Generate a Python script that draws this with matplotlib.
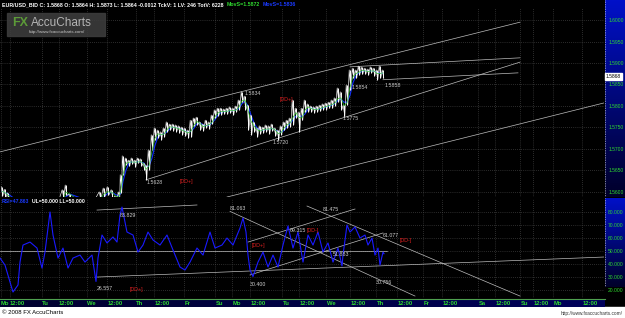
import matplotlib
matplotlib.use('Agg')
import matplotlib.pyplot as plt
import numpy as np
import pandas as pd
from matplotlib.patches import Rectangle
from matplotlib.colors import LinearSegmentedColormap

plt.rcParams['font.family'] = ['Liberation Sans', 'DejaVu Sans']

# ---------------- data ----------------
bar_x = [2, 5, 8, 15, 25, 35, 45, 55, 63, 66, 70, 80, 90, 100, 104, 108, 112, 116, 119, 121, 123,
         126, 129, 132, 135, 138, 141, 144, 146, 149, 152, 155, 158, 161, 164, 167, 170, 173, 176,
         179, 182, 185, 188, 191, 194, 197, 200, 203, 206, 209, 212, 215, 218, 221, 224, 227, 230,
         233, 236, 239, 242, 245, 248, 251, 254, 257, 260, 263, 266, 269, 272, 275, 278, 281, 284,
         287, 290, 293, 296, 299, 302, 305, 308, 311, 314, 317, 320, 323, 326, 329, 332, 335, 338,
         341, 344, 347, 350, 353, 356, 359, 362, 365, 368, 371, 374, 377, 380, 383]
bar_hi = [1.5612, 1.5606, 1.5598, 1.5575, 1.5565, 1.5560, 1.5568, 1.5578, 1.5605, 1.5616, 1.5595,
          1.5580, 1.5585, 1.5600, 1.5609, 1.5612, 1.5605, 1.5590, 1.5600, 1.5640, 1.5684,
          1.5679, 1.5674, 1.5679, 1.5674, 1.5679, 1.5677, 1.5667, 1.5663, 1.5698, 1.5733, 1.5749,
          1.5744, 1.5740, 1.5749, 1.5763, 1.5758, 1.5758, 1.5756, 1.5754, 1.5751, 1.5749, 1.5744,
          1.5767, 1.5772, 1.5774, 1.5763, 1.5758, 1.5767, 1.5763, 1.5779, 1.5791, 1.5795, 1.5795,
          1.5793, 1.5795, 1.5798, 1.5795, 1.5800, 1.5814, 1.5833, 1.5823, 1.5802, 1.5779, 1.5763,
          1.5749, 1.5754, 1.5751, 1.5756, 1.5754, 1.5758, 1.5749, 1.5744, 1.5754, 1.5763, 1.5767,
          1.5772, 1.5814, 1.5795, 1.5786, 1.5795, 1.5814, 1.5805, 1.5800, 1.5798, 1.5800, 1.5802,
          1.5805, 1.5807, 1.5809, 1.5814, 1.5819, 1.5842, 1.5833, 1.5802, 1.5849, 1.5884, 1.5888,
          1.5884, 1.5893, 1.5891, 1.5888, 1.5886, 1.5891, 1.5888, 1.5884, 1.5893, 1.5884]
bar_lo = [1.5590, 1.5585, 1.5580, 1.5555, 1.5545, 1.5540, 1.5548, 1.5558, 1.5585, 1.5592, 1.5575,
          1.5560, 1.5565, 1.5582, 1.5588, 1.5592, 1.5586, 1.5575, 1.5585, 1.5598, 1.5640,
          1.5663, 1.5660, 1.5665, 1.5658, 1.5667, 1.5660, 1.5651, 1.5628, 1.5651, 1.5698, 1.5721,
          1.5726, 1.5721, 1.5728, 1.5740, 1.5744, 1.5742, 1.5740, 1.5737, 1.5733, 1.5730, 1.5726,
          1.5728, 1.5754, 1.5756, 1.5744, 1.5742, 1.5749, 1.5747, 1.5758, 1.5772, 1.5777, 1.5779,
          1.5781, 1.5781, 1.5784, 1.5779, 1.5786, 1.5791, 1.5809, 1.5791, 1.5744, 1.5733, 1.5740,
          1.5728, 1.5735, 1.5737, 1.5740, 1.5735, 1.5742, 1.5730, 1.5720, 1.5733, 1.5744, 1.5749,
          1.5751, 1.5756, 1.5772, 1.5740, 1.5767, 1.5786, 1.5786, 1.5786, 1.5784, 1.5786, 1.5788,
          1.5791, 1.5791, 1.5795, 1.5795, 1.5800, 1.5809, 1.5791, 1.5775, 1.5802, 1.5837, 1.5865,
          1.5865, 1.5872, 1.5874, 1.5874, 1.5872, 1.5877, 1.5870, 1.5861, 1.5865, 1.5865]

rsi_x = [0, 5, 10, 13, 18, 20, 23, 30, 37, 42, 45, 50, 53, 58, 63, 68, 73, 80, 85, 92, 96, 98,
         102, 107, 113, 117, 120, 122, 127, 133, 138, 143, 148, 153, 160, 167, 173, 180, 185, 190,
         197, 203, 210, 215, 222, 227, 233, 240, 243, 246, 248, 250, 253, 258, 263, 268, 273, 278,
         283, 288, 293, 298, 303, 308, 313, 318, 323, 328, 333, 338, 342, 343, 347, 350, 355, 360,
         365, 368, 372, 375, 378, 380, 383, 384]
rsi_v = [44.6, 39.2, 26.2, 18.5, 23.9, 41.5, 54.6, 56.9, 52.3, 36.9, 49.2, 80.0, 62.3, 44.6,
         52.3, 36.9, 44.6, 46.9, 41.5, 46.9, 26.6, 44.6, 62.3, 56.2, 60.8, 56.9, 77.7, 83.8,
         64.6, 62.3, 49.2, 54.6, 64.6, 58.5, 54.6, 62.3, 50.8, 37.7, 35.4, 41.5, 52.3, 46.9,
         64.6, 52.3, 54.6, 60.0, 54.6, 67.7, 75.4, 64.6, 46.9, 35.4, 30.4, 41.5, 49.2, 37.7,
         46.9, 37.7, 54.6, 69.3, 52.3, 64.6, 41.5, 62.3, 54.6, 64.6, 49.2, 56.2, 41.5, 52.3,
         38.5, 46.9, 70.0, 64.6, 68.5, 60.0, 62.3, 54.6, 60.0, 46.9, 52.3, 39.2, 49.2, 47.9]

price_ticks = [1.5600, 1.5650, 1.5700, 1.5750, 1.5800, 1.5850, 1.5900, 1.5950, 1.6000]
rsi_ticks = [20, 30, 40, 50, 60, 70, 80]
time_pos = [1, 10, 42, 59, 87, 107, 136, 154, 184, 215, 232, 250, 282, 299, 326, 350, 376, 397,
            423, 442, 478, 495, 520, 533, 553, 582]
time_lbl = ['Mo', '12:00', 'Tu', '12:00', 'We', '12:00', 'Th', '12:00', 'Fr', 'Su', 'Mo', '12:00',
            'Tu', '12:00', 'We', '12:00', 'Th', '12:00', 'Fr', '12:00', 'Sa', '12:00', 'Su', '12:00',
            'Mo', '12:00']

# trend lines (x0, v0, x1, v1)
price_lines = [(0, 1.5693, 520, 1.5995),
               (146, 1.5628, 520, 1.5902),
               (227, 1.5588, 604, 1.5807),
               (350, 1.5891, 520, 1.5912),
               (383, 1.5861, 518, 1.5877)]
price_notes = [(147, 1.5622, '1.5628', '#c8c8c8'), (180, 1.5625, '[DD+]', '#e02020'),
               (273, 1.5716, '1.5720', '#c8c8c8'), (245, 1.5829, '1.5834', '#c8c8c8'),
               (280, 1.5814, '[DD+]', '#e02020'), (343, 1.5770, '1.5775', '#c8c8c8'),
               (352, 1.5842, '1.5854', '#c8c8c8'), (385, 1.5847, '1.5858', '#c8c8c8')]

rsi_lines = [(97, 81.5, 197, 85.4),
             (97, 30.0, 604, 45.4),
             (0, 50.0, 387, 50.0),
             (230, 80.5, 415, 15.4),
             (250, 31.6, 383, 63.9),
             (248, 56.9, 355, 82.3),
             (307, 84.6, 520, 15.4)]
rsi_notes = [(120, 77.0, '83.829'), (97, 21.0, '26.557'), (230, 83.0, '81.063'),
             (250, 24.5, '30.400'), (290, 65.5, '69.315'), (323, 82.0, '81.475'),
             (333, 47.0, '51.883'), (383, 62.0, '61.077'), (376, 25.5, '30.756')]
rsi_dd = [(130, 20.5, '[DD+]'), (252, 54.0, '[DD+]'), (307, 66.0, '[DD-]'), (400, 58.0, '[DD-]')]

# ---------------- figure ----------------
W, H = 625, 318
fig = plt.figure(figsize=(W / 100, H / 100), dpi=100)
fig.patch.set_facecolor('black')


def fx(px):
    return px / W


def fy(py):
    return 1 - py / H


fig.add_artist(Rectangle((0, 0), 1, 11 / H, transform=fig.transFigure, color='white', zorder=0))

green = '#2fd82f'
gridc = '#555555'

ax1 = fig.add_axes([0, fy(197), 604 / W, (197 - 8) / H], zorder=2)
ax2 = fig.add_axes([0, fy(298), 604 / W, (298 - 199) / H], zorder=2)

for ax in (ax1, ax2):
    ax.set_facecolor('black')
    for s in ax.spines.values():
        s.set_visible(False)
    ax.set_xlim(0, 604)
    ax.set_xticks(time_pos)
    ax.tick_params(axis='x', length=0, labelbottom=False)
    ax.yaxis.tick_right()
    ax.tick_params(axis='y', length=0, pad=3, labelsize=3.6, labelcolor=green)
    ax.grid(True, color=gridc, linestyle=(0, (1, 2)), linewidth=0.5)
    ax.set_axisbelow(True)

ax1.set_ylim(1.5588, 1.6028)
ax1.set_yticks(price_ticks)
ax1.set_yticklabels([f'{v:.4f}' for v in price_ticks])
ax2.set_ylim(13.9, 90)
ax2.set_yticks(rsi_ticks)
ax2.set_yticklabels([f'{v:.3f}' for v in rsi_ticks])

# right gradient strips
grad = np.linspace(0, 1, 100).reshape(-1, 1)
cm = LinearSegmentedColormap.from_list('b', ['#00002a', '#0010c8'])
for (top, bot) in ((0, 197), (198, 287)):
    sa = fig.add_axes([fx(605), fy(bot), 20 / W, (bot - top) / H], zorder=1)
    sa.imshow(grad, aspect='auto', cmap=cm, origin='lower', extent=(0, 1, 0, 1))
    sa.axis('off')
    sa.axvline(0.02, color='white', linestyle=(0, (1, 1.5)), linewidth=0.5)

# price bars
hi = np.array(bar_hi)
lo = np.array(bar_lo)
bx = np.array(bar_x, dtype=float)
mid = (hi + lo) / 2
ma_fast = pd.Series(mid).rolling(2, min_periods=1).mean()
ma_slow = pd.Series(mid).rolling(3, min_periods=1).mean()
zig_x = np.column_stack([bx - 0.8, bx + 0.8]).ravel()
zig_y = np.column_stack([hi, lo]).ravel()
ax1.plot(bx, ma_slow, color='#1030ff', lw=0.8, zorder=3)
ax1.vlines(bx, lo, hi, color='white', lw=0.7, zorder=4)
ax1.plot(zig_x, zig_y, color='white', lw=0.45, zorder=4)
ax1.plot(bx, ma_fast, color='#30c030', lw=0.5, zorder=5)

for x0, v0, x1, v1 in price_lines:
    ax1.plot([x0, x1], [v0, v1], color='#bdbdbd', lw=0.5, zorder=3)
for x, v, t, c in price_notes:
    ax1.text(x, v, t, color=c, fontsize=3.8, va='center', ha='left', zorder=6)

# last price box
ax1.annotate('1.5868', xy=(1.003, 1.5868), xycoords=('axes fraction', 'data'), fontsize=3.6,
             color='black', va='center', ha='left', annotation_clip=False, zorder=10,
             bbox=dict(boxstyle='square,pad=0.2', fc='white', ec='white'))

# RSI
for x0, v0, x1, v1 in rsi_lines:
    ax2.plot([x0, x1], [v0, v1], color='#bdbdbd', lw=0.5, zorder=3)
ax2.plot(rsi_x, rsi_v, color='#1a1aff', lw=0.8, zorder=4)
for x, v, t in rsi_notes:
    ax2.text(x, v, t, color='#d0d0d0', fontsize=3.8, va='center', ha='left', zorder=6)
for x, v, t in rsi_dd:
    ax2.text(x, v, t, color='#e02020', fontsize=3.8, va='center', ha='left', zorder=6)

# header texts
fig.text(fx(2), fy(4.5), 'EUR/USD_BID C: 1.5868 O: 1.5864 H: 1.5873 L: 1.5864 -0.0012 TckV: 1 LV: 246 TotV: 6228',
         color='white', fontsize=3.8, fontweight='bold', va='center', ha='left')
fig.text(fx(227), fy(4.5), 'MovS=1.5872', color=green, fontsize=3.8, fontweight='bold', va='center')
fig.text(fx(263), fy(4.5), 'MovS=1.5836', color='#1a3aff', fontsize=3.8, fontweight='bold', va='center')
fig.text(fx(2), fy(201.5), 'RSI=47.863', color='#1a3aff', fontsize=3.7, fontweight='bold', va='center')
fig.text(fx(32), fy(201.5), 'UL=50.000 LL=50.000', color='white', fontsize=3.7, fontweight='bold', va='center')

# watermark
fig.add_artist(Rectangle((fx(7), fy(36)), 98 / W, 23 / H, transform=fig.transFigure,
                         color='#3c3c3c', alpha=0.9, zorder=5))
fig.text(fx(12), fy(23), 'FX', color='#5c9a38', fontsize=9, fontweight='bold', va='center', zorder=6)
fig.text(fx(31), fy(23), 'AccuCharts', color='#b4b4b4', fontsize=8.5, va='center', zorder=6)
fig.text(fx(29), fy(32), 'http://www.fxaccucharts.com/', color='#c8c8c8', fontsize=3.2, va='center', zorder=6)

# time axis bar
tb = fig.add_axes([0, fy(307), 605 / W, 8 / H], zorder=3)
tb.imshow(np.linspace(0, 1, 100).reshape(1, -1), aspect='auto',
          cmap=LinearSegmentedColormap.from_list('t', ['#00002e', '#00005a']), extent=(0, 604, 0, 1))
tb.set_xlim(0, 604)
tb.axis('off')
fig.add_artist(plt.Line2D([0, 605 / W], [fy(299), fy(299)], transform=fig.transFigure,
                          color='#4fa04f', lw=0.8, zorder=4))
for p, t in zip(time_pos, time_lbl):
    tb.text(p, 0.45, t, color=green, fontsize=4.2, fontweight='bold', va='center', ha='left')

fig.text(fx(2), fy(313), '\u00a9 2008 FX AccuCharts', color='black', fontsize=4.3, va='center', ha='left')
fig.text(fx(623), fy(314), 'http://www.fxaccucharts.com/', color='#333333', fontsize=3.4, va='center', ha='right')

fig.savefig('out.png', dpi=100, facecolor=fig.get_facecolor())
